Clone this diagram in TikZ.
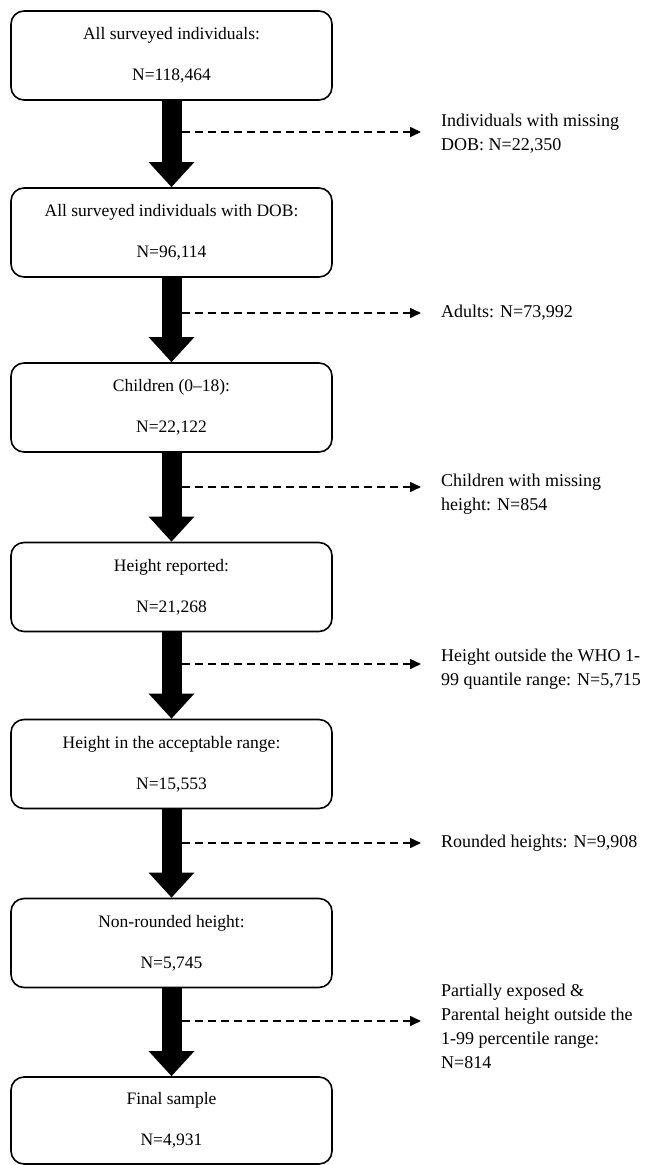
\documentclass[tikz,border=0pt]{standalone}
\usepackage{fontspec}
\setmainfont{Liberation Serif}
\usetikzlibrary{arrows.meta,calc}
\begin{document}
\begin{tikzpicture}[x=1pt,y=-1pt,
 box/.style={draw, line width=1.6pt, rounded corners=13pt, minimum width=321pt, minimum height=89pt, align=center, inner sep=0pt, font=\fontsize{17.5}{21}\selectfont},
 side/.style={anchor=west, align=left, inner sep=0pt, font=\fontsize{18}{24}\selectfont},
 bigarrow/.style={line width=20pt, -{Triangle[length=25pt,width=44pt]}},
 dasharrow/.style={line width=1.6pt, dash pattern=on 8pt off 5pt, -{Triangle[length=11pt,width=10pt]}}]
\useasboundingbox (0,0) rectangle (651,1165);
% boxes
\node[box] (b1) at (171.5,55.5) {All surveyed individuals:\\[20pt]N=118,464};
\node[box] (b2) at (171.5,232.5) {All surveyed individuals with DOB:\\[20pt]N=96,114};
\node[box] (b3) at (171.5,407.5) {Children (0--18):\\[20pt]N=22,122};
\node[box] (b4) at (171.5,587) {Height reported:\\[20pt]N=21,268};
\node[box] (b5) at (171.5,764) {Height in the acceptable range:\\[20pt]N=15,553};
\node[box] (b6) at (171.5,943) {Non-rounded height:\\[20pt]N=5,745};
\node[box, minimum height=87pt] (b7) at (171.5,1120.5) {Final sample\\[20pt]N=4,931};
% main arrows
\draw[bigarrow] (b1.south) -- (b2.north);
\draw[bigarrow] (b2.south) -- (b3.north);
\draw[bigarrow] (b3.south) -- (b4.north);
\draw[bigarrow] (b4.south) -- (b5.north);
\draw[bigarrow] (b5.south) -- (b6.north);
\draw[bigarrow] (b6.south) -- (b7.north);
% side texts
\node[side] (t1) at (441,134) {Individuals with missing\\DOB: N=22,350};
\node[side] (t2) at (441,313) {Adults: N=73,992};
\node[side] (t3) at (441,494) {Children with missing\\height: N=854};
\node[side] (t4) at (441,669) {Height outside the WHO 1-\\99 quantile range: N=5,715};
\node[side] (t5) at (441,843) {Rounded heights: N=9,908};
\node[side] (t6) at (441,1026) {Partially exposed \&\\Parental height outside the\\1-99 percentile range:\\N=814};
% dashed exclusion arrows
\coordinate (s1) at (182,132);  \coordinate (e1) at (421,132);
\coordinate (s2) at (182,313);  \coordinate (e2) at (421,313);
\coordinate (s3) at (182,487);  \coordinate (e3) at (421,487);
\coordinate (s4) at (182,664);  \coordinate (e4) at (421,664);
\coordinate (s5) at (182,843);  \coordinate (e5) at (421,843);
\coordinate (s6) at (182,1021); \coordinate (e6) at (421,1021);
\draw[dasharrow] (s1) -- (e1);
\draw[dasharrow] (s2) -- (e2);
\draw[dasharrow] (s3) -- (e3);
\draw[dasharrow] (s4) -- (e4);
\draw[dasharrow] (s5) -- (e5);
\draw[dasharrow] (s6) -- (e6);
\end{tikzpicture}
\end{document}
